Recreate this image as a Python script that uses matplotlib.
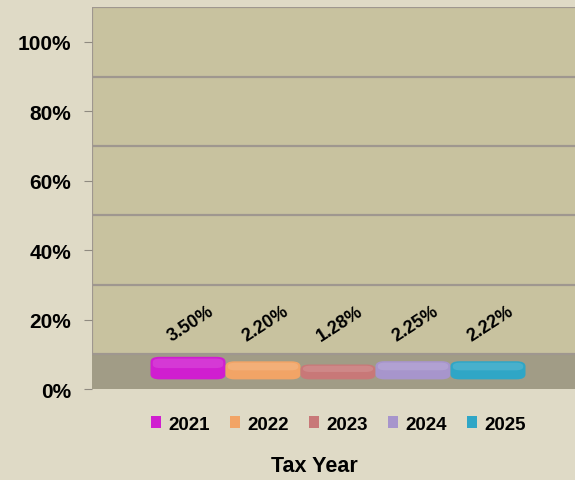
import matplotlib
matplotlib.use("Agg")
import matplotlib.pyplot as plt
from matplotlib.patches import FancyBboxPatch, Patch
from matplotlib.ticker import PercentFormatter

years = ["2021", "2022", "2023", "2024", "2025"]
rates = [0.035, 0.022, 0.0128, 0.0225, 0.0222]
labels = ["3.50%", "2.20%", "1.28%", "2.25%", "2.22%"]
colors = ["#D01ED0", "#F2A466", "#C87878", "#A795CC", "#2FA6C6"]

plt.rcParams['font.family'] = ['Liberation Sans', 'DejaVu Sans']

fig = plt.figure(figsize=(5.75, 4.81), dpi=100)
fig.patch.set_facecolor("#DFDAC6")
ax = fig.add_axes([0.160, 0.189, 0.840, 0.794])
ax.set_facecolor("none")

# back wall and floor of the 3d chart
ax.axhspan(0.1, 1.1, color="#C8C29F", zorder=0)
ax.axhspan(0.0, 0.1, color="#A19C86", zorder=0)
for g in [0.1, 0.3, 0.5, 0.7, 0.9, 1.1]:
    ax.axhline(g, color="#9F978F", lw=1.6, zorder=1)
ax.axvline(-1.28, ymin=0.1 / 1.1, color="#9F978F", lw=1.6, zorder=1)

ax.set_xlim(-1.28, 5.16)
ax.set_ylim(0, 1.1)

# flat rounded bars
base = 0.028
for i, (r, c, lab) in enumerate(zip(rates, colors, labels)):
    h = r + 0.03
    p = FancyBboxPatch((i - 0.5, base), 1.0, h,
                       boxstyle="round,pad=0,rounding_size=0.12",
                       mutation_aspect=0.12, facecolor=c,
                       edgecolor="none", zorder=3)
    ax.add_patch(p)
    ax.add_patch(FancyBboxPatch((i - 0.47, base + h * 0.5), 0.94, h * 0.42,
                                boxstyle="round,pad=0,rounding_size=0.1",
                                mutation_aspect=0.1, facecolor="white",
                                alpha=0.12, edgecolor="none", zorder=4))
    ax.text(i + 0.03, 0.19, lab, rotation=33, ha="center", va="center",
            fontsize=13, fontweight="bold", zorder=5)

ax.set_yticks([0, 0.2, 0.4, 0.6, 0.8, 1.0])
ax.yaxis.set_major_formatter(PercentFormatter(1.0, decimals=0))
ax.tick_params(axis="y", length=6, color="#8F8A80", pad=9, labelsize=15)
for t in ax.get_yticklabels():
    t.set_fontweight("bold")
ax.set_xticks([])
for s in ax.spines.values():
    s.set_visible(False)

handles = [Patch(facecolor=c, edgecolor="none") for c in colors]
fig.legend(handles, years, loc="center", ncol=5, frameon=False,
           bbox_to_anchor=(0.589, 0.116), handlelength=0.5, handleheight=0.6,
           handletextpad=0.4, columnspacing=1.1,
           prop={"weight": "bold", "size": 13.5})
fig.text(0.546, 0.03, "Tax Year", ha="center", va="center",
         fontsize=15.5, fontweight="bold")

fig.savefig("out.png", dpi=100, facecolor=fig.get_facecolor())
